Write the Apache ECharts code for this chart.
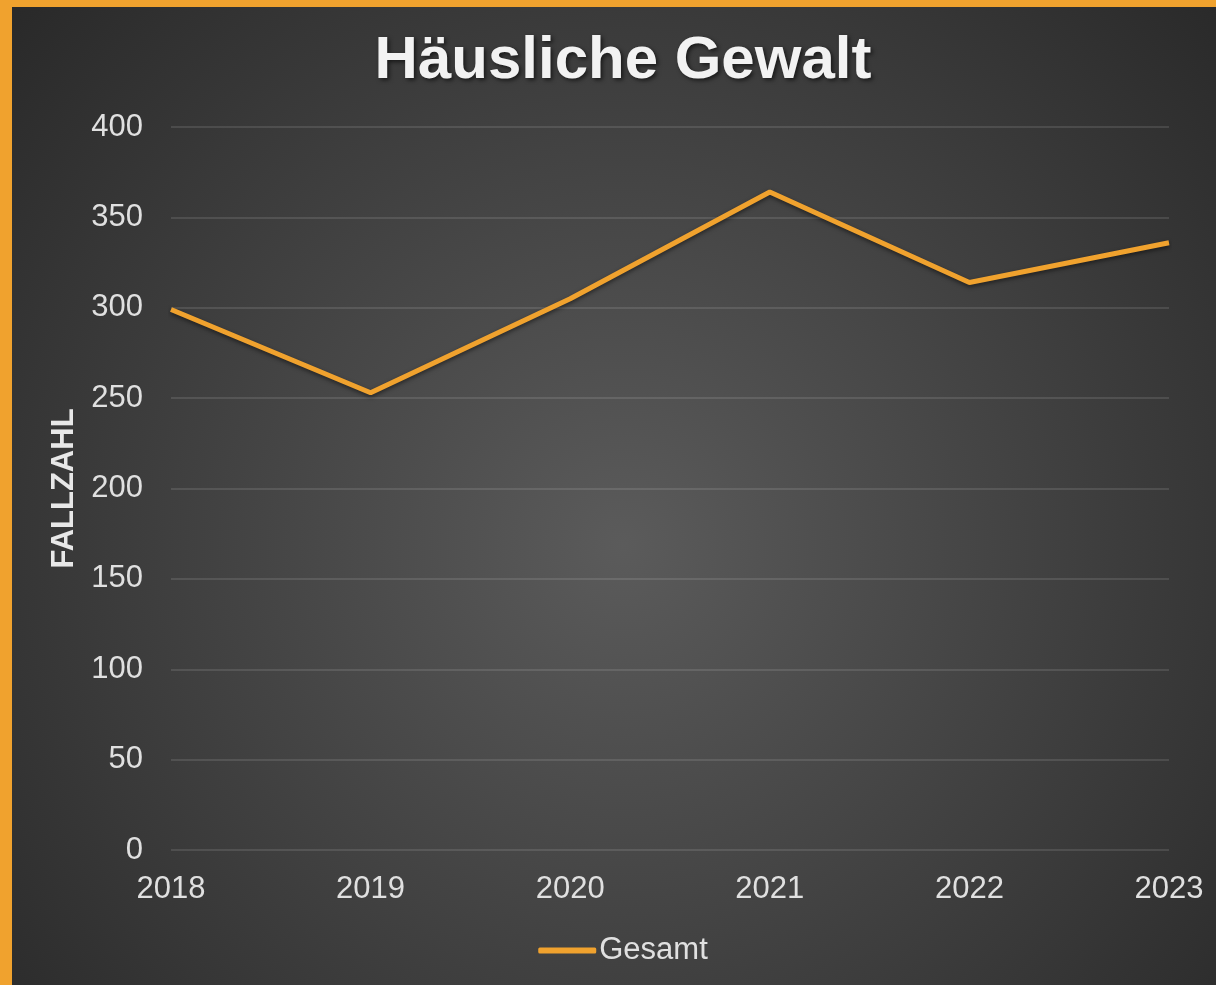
<!DOCTYPE html>
<html>
<head>
<meta charset="utf-8">
<title>Häusliche Gewalt</title>
<script src="https://cdn.jsdelivr.net/npm/echarts@6/dist/echarts.min.js"></script>
<style>
  html, body { margin: 0; padding: 0; overflow: hidden; background: #2a2a2a; }
  #frame {
    width: 1216px; height: 985px; box-sizing: border-box;
    border-left: 12px solid #F0A22E; border-top: 7px solid #F0A22E;
    overflow: hidden;
  }
  /* the right edge of the original is cut off, so the chart is a bit wider than the window */
  #chart { width: 1222px; height: 978px; }
</style>
</head>
<body>
<div id="frame"><div id="chart"></div></div>
<script>
// Jahre auf der x-Achse
const years = ['2018', '2019', '2020', '2021', '2022', '2023']
// Fallzahlen
const gesamt = [299, 253, 305, 364, 314, 336]
// y-Achse
const yMin = 0
const yMax = 400
const yStep = 50

const chart = echarts.init(document.getElementById('chart'))
const font = 'Liberation Sans, Arial, sans-serif'

const options = {
  backgroundColor: {
    type: 'radial',
    x: 0.5, y: 0.55, r: 0.85,
    colorStops: [
      { offset: 0, color: '#5b5b5b' },
      { offset: 1, color: '#282828' }
    ]
  },
  title: {
    text: 'Häusliche Gewalt',
    left: 'center',
    top: 19,
    textStyle: {
      color: '#f2f2f2',
      fontFamily: font,
      fontWeight: 'bold',
      fontSize: 60,
      textShadowColor: 'rgba(0,0,0,0.6)',
      textShadowBlur: 4,
      textShadowOffsetX: 2,
      textShadowOffsetY: 2
    }
  },
  legend: {
    bottom: 14,
    left: 'center',
    itemWidth: 58,
    itemHeight: 6,
    icon: 'roundRect',
    textStyle: { color: '#e0e0e0', fontFamily: font, fontSize: 31, padding: [0, 0, 0, -2] },
    data: ['Gesamt']
  },
  grid: {
    left: 159,
    right: 65,
    top: 120,
    bottom: 135
  },
  xAxis: {
    type: 'category',
    data: years,
    boundaryGap: false,
    axisLine: { show: false },
    axisTick: { show: false },
    axisLabel: { color: '#e0e0e0', fontFamily: font, fontSize: 31, margin: 24 }
  },
  yAxis: {
    type: 'value',
    min: yMin,
    max: yMax,
    interval: yStep,
    name: 'FALLZAHL',
    nameLocation: 'middle',
    nameGap: 89,
    nameTextStyle: { color: '#e8e8e8', fontFamily: font, fontSize: 31, fontWeight: 'bold' },
    axisLine: { show: false },
    axisTick: { show: false },
    axisLabel: { color: '#e0e0e0', fontFamily: font, fontSize: 31, margin: 28 },
    splitLine: { lineStyle: { color: 'rgba(255,255,255,0.11)', width: 2 } }
  },
  series: [
    {
      name: 'Gesamt',
      type: 'line',
      data: gesamt,
      symbol: 'none',
      color: '#F0A22E',
      lineStyle: {
        width: 5,
        color: '#F0A22E',
        shadowColor: 'rgba(0,0,0,0.5)',
        shadowBlur: 4,
        shadowOffsetY: 2
      }
    }
  ]
}
chart.setOption(options)
</script>
</body>
</html>
